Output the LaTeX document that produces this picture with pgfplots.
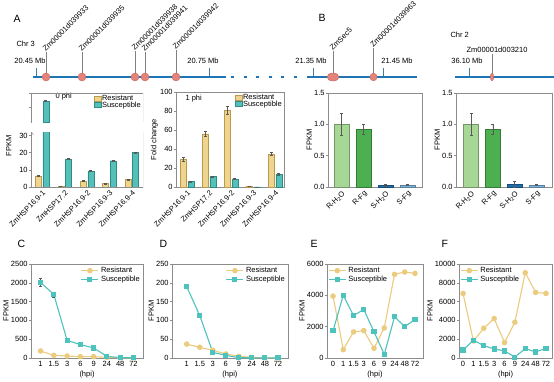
\documentclass[border=0pt]{standalone}
\usepackage{pgfplots}
\pgfplotsset{compat=1.18}
\usepackage{fontspec}
\setmainfont{Liberation Sans}
\definecolor{resF}{HTML}{EFD48E}
\definecolor{resD}{HTML}{B89A50}
\definecolor{susF}{HTML}{55C0B9}
\definecolor{susD}{HTML}{2E8C86}
\definecolor{resL}{HTML}{EBCB7E}
\definecolor{susL}{HTML}{4EC2BC}
\definecolor{gLight}{HTML}{A6D795}
\definecolor{gDark}{HTML}{4CAF50}
\definecolor{bDark}{HTML}{1F6FAE}
\definecolor{bLight}{HTML}{7DB6DD}
\definecolor{track}{HTML}{1E74B5}
\definecolor{gene}{HTML}{E5837A}
\definecolor{geneD}{HTML}{C0655D}
\definecolor{frame}{gray}{0.55}
\newcommand{\fs}{\fontsize{7.5}{8.5}\selectfont}
\newcommand{\fl}{\fontsize{10.5}{12}\selectfont}
\tikzset{glab/.style={font=\fs, rotate=45, anchor=south west, inner sep=0pt}}
\pgfplotsset{
 base/.style={scale only axis, axis line style={frame,line width=0.5pt},
   every tick/.style={frame,line width=0.5pt}, major tick length=2.2pt, tick align=outside,
   xtick pos=bottom, ytick pos=left,
   ticklabel style={font=\fs, inner sep=1pt, text=black},
   label style={font=\fs},
   /pgf/number format/assume math mode=true, /pgf/number format/1000 sep={},
   scaled ticks=false, ylabel style={inner sep=1pt}},
 mylegimg/.style={legend image code/.code={\draw[##1, line width=0.4pt] (0pt,-2.2pt) rectangle (6.5pt,2.8pt);}},
 barleg/.style={legend cell align=left,
   legend style={at={(1,1)}, anchor=north east, draw=none, fill=none, font=\fs, inner sep=1pt, row sep=-2.5pt,
     nodes={inner sep=1pt}}},
 eb/.style={error bars/.cd, y dir=both, y explicit,
   error bar style={black!65, line width=0.4pt},
   error mark options={rotate=90, black!65, mark size=1.5pt, line width=0.4pt}},
 hsp/.style={xtick={0,...,4}, xticklabels={ZmHSP16.9-1,ZmHSP17.2,ZmHSP16.9-2,ZmHSP16.9-3,ZmHSP16.9-4},
   xticklabel style={rotate=45, anchor=north east, inner sep=0.5pt}, xtick style={draw=none}},
 trt/.style={xtick={0,...,3}, xticklabels={R-H\textsubscript{2}O,R-Fg,S-H\textsubscript{2}O,S-Fg},
   xticklabel style={rotate=45, anchor=north east, inner sep=0.5pt}, xtick style={draw=none},
   ymin=0, ymax=1.5, ytick={0,0.5,1,1.5}, ylabel=FPKM,
   yticklabel style={/pgf/number format/.cd, fixed, fixed zerofill, precision=1},
   xmin=-0.62, xmax=3.66},
 resline/.style={resL, line width=1.1pt, mark=*, mark size=2.2pt, mark options={fill=resL, draw=resL}},
 susline/.style={susL, line width=1.1pt, mark=square*, mark size=2pt, mark options={fill=susL, draw=susL}},
 lc/.style={base, height=94pt, ymin=0, xlabel=(hpi), ylabel=FPKM, xtick style={draw=none},
   legend cell align=left,
   legend style={draw=none, fill=none, font=\fs, inner sep=1pt, row sep=-2.5pt}},
 rb/.style={fill=resF, draw=resD, line width=0.4pt, mylegimg},
 sb/.style={fill=susF, draw=susD, line width=0.4pt, mylegimg},
}
\begin{document}
\begin{tikzpicture}[x=1pt,y=1pt]
\useasboundingbox (0,0) rectangle (554,-381);
% ---------- overlay: chromosome tracks and labels ----------
\begin{axis}[scale only axis, width=554pt, height=381pt, at={(0pt,-381pt)}, anchor=south west,
  xmin=0, xmax=554, ymin=-381, ymax=0, hide axis, clip=false]
\addplot[track, line width=2.6pt] coordinates {(33,-77) (226,-77)};
\addplot[track, line width=2.6pt, dash pattern=on 3pt off 9.5pt] coordinates {(231,-77) (304,-77)};
\addplot[track, line width=2.6pt] coordinates {(307,-77) (417,-77)};
\addplot[track, line width=2.6pt] coordinates {(455,-77) (554,-77)};
\addplot[track!60!gray, line width=0.6pt, unbounded coords=jump] coordinates {(36,-68)(36,-76) (nan,nan) (209,-68)(209,-76) (nan,nan) (313,-68)(313,-76) (nan,nan) (383,-68)(383,-76) (nan,nan) (469,-68)(469,-76)};
\addplot[black!50, line width=0.4pt, unbounded coords=jump] coordinates {(46,-74)(46,-52) (nan,nan) (82,-74)(82,-52) (nan,nan) (135,-74)(135,-51) (nan,nan) (145,-74)(145,-52) (nan,nan) (176,-74)(176,-50) (nan,nan) (333,-74)(333,-51) (nan,nan) (373.5,-74)(373.5,-48) (nan,nan) (492,-74)(492,-54)};
\addplot[only marks, mark=*, mark size=4pt, mark options={fill=gene, draw=geneD, line width=0.4pt}] coordinates {(46,-77)(82,-77)(135,-77)(145,-77)(176,-77)};
\addplot[only marks, mark=*, mark size=3.8pt, mark options={xscale=0.95, fill=gene, draw=geneD, line width=0.4pt}] coordinates {(373.5,-77)};
\addplot[only marks, mark=*, mark size=4pt, mark options={xscale=1.5, fill=gene, draw=geneD, line width=0.4pt}] coordinates {(333,-77)};
\addplot[only marks, mark=*, mark size=3.8pt, mark options={xscale=0.45, fill=gene, draw=geneD, line width=0.4pt}] coordinates {(492,-77)};
\node[font=\fl, anchor=base west] at (axis cs:10,-22) {A};
\node[font=\fl, anchor=base west] at (axis cs:315,-21) {B};
\node[font=\fs, anchor=base west] at (axis cs:13,-46) {Chr 3};
\node[font=\fs, anchor=base west] at (axis cs:447,-37) {Chr 2};
\node[font=\fs, anchor=base] at (axis cs:30,-63) {20.45 Mb};
\node[font=\fs, anchor=base] at (axis cs:203,-63) {20.75 Mb};
\node[font=\fs, anchor=base] at (axis cs:311,-63) {21.35 Mb};
\node[font=\fs, anchor=base] at (axis cs:397,-63) {21.45 Mb};
\node[font=\fs, anchor=base] at (axis cs:467,-63) {36.10 Mb};
\node[font=\fs, anchor=base] at (axis cs:497,-52) {Zm00001d003210};
\node[glab] at (axis cs:46,-52) {Zm00001d039933};
\node[glab] at (axis cs:82,-52) {Zm00001d039935};
\node[glab] at (axis cs:135,-51) {Zm00001d039938};
\node[glab] at (axis cs:145,-52) {Zm00001d039941};
\node[glab] at (axis cs:176,-50) {Zm00001d039942};
\node[glab] at (axis cs:333,-51) {ZmSec5};
\node[glab] at (axis cs:373.5,-48) {Zm00001d039963};
\node[font=\fs, anchor=base west] at (axis cs:52,-98) {0 phi};
\node[font=\fs, anchor=base west] at (axis cs:182,-100) {1 phi};
\node[font=\fs, rotate=90, anchor=south] at (axis cs:15,-146) {FPKM};
\node[font=\fl, anchor=base west] at (axis cs:14,-247) {C};
\node[font=\fl, anchor=base west] at (axis cs:156,-247) {D};
\node[font=\fl, anchor=base west] at (axis cs:307,-247) {E};
\node[font=\fl, anchor=base west] at (axis cs:438,-247) {F};
\end{axis}
% ---------- A: 0 phi upper ----------
\begin{axis}[base, at={(31pt,-122pt)}, anchor=south west, width=112pt, height=29pt,
  ymin=195, ymax=400, ytick={300,400}, yticklabel style={text opacity=0}, xmin=-0.5, xmax=4.5, xtick=\empty,
  axis line style={draw=none}, barleg]
\addlegendimage{rb}
\addlegendentry{Resistant}
\addlegendimage{sb}
\addlegendentry{Susceptible}
\addplot[forget plot, ybar, bar width=6pt, bar shift=0pt, sb, eb] coordinates {(0.167,345)+-(0,6)};
\draw[frame, line width=0.5pt] (rel axis cs:0,0) -- (rel axis cs:0,1) -- (rel axis cs:1,1) -- (rel axis cs:1,0);
\draw[frame, line width=0.5pt] ([xshift=-2.5pt,yshift=2.5pt]rel axis cs:0,0) -- ([xshift=2.5pt,yshift=-2.5pt]rel axis cs:0,0);
\node[font=\fs, anchor=east, inner sep=1pt, xshift=-2.2pt] at (axis cs:-0.5,300) {300};
\node[font=\fs, anchor=east, inner sep=1pt, xshift=-2.2pt] at (axis cs:-0.5,400) {400};
\end{axis}
% ---------- A: 0 phi lower ----------
\begin{axis}[base, at={(31pt,-187pt)}, anchor=south west, width=112pt, height=55pt,
  ymin=0, ymax=32, ytick={0,10,20,30}, xmin=-0.5, xmax=4.5, hsp,
  axis line style={draw=none}, ybar=1.5pt, bar width=6pt]
\addplot[rb, eb] coordinates {(0,6.5)+-(0,0.5) (1,0.5)+-(0,0.1) (2,3.5)+-(0,0.3) (3,2)+-(0,0.2) (4,4.3)+-(0,0.3)};
\addplot[sb, eb] coordinates {(0,345)+-(0,6) (1,16.3)+-(0,0.4) (2,9.3)+-(0,0.3) (3,15.3)+-(0,0.4) (4,20)+-(0,0.5)};
\draw[frame, line width=0.5pt] (rel axis cs:0,1) -- (rel axis cs:0,0) -- (rel axis cs:1,0) -- (rel axis cs:1,1);
\draw[frame, line width=0.5pt] ([xshift=-2.5pt,yshift=2.5pt]rel axis cs:0,1) -- ([xshift=2.5pt,yshift=-2.5pt]rel axis cs:0,1);
\end{axis}
% ---------- A: 1 phi ----------
\begin{axis}[base, at={(176pt,-187pt)}, anchor=south west, width=108pt, height=95pt,
  ymin=0, ymax=100, ytick={0,20,...,100}, xmin=-0.5, xmax=4.4, hsp, ylabel={Fold change}, barleg,
  ybar=1.5pt, bar width=6pt]
\addplot[rb, eb] coordinates {(0,29)+-(0,2) (1,56)+-(0,3) (2,81)+-(0,4.5) (3,1)+-(0,0.2) (4,35)+-(0,2)};
\addplot[sb, eb] coordinates {(0,6)+-(0,0.5) (1,11)+-(0,0.8) (2,8.5)+-(0,0.5) (3,0.2)+-(0,0.1) (4,13.5)+-(0,1)};
\legend{Resistant,Susceptible}
\end{axis}
% ---------- B: ZmSARD1 ----------
\begin{axis}[base, at={(328pt,-187pt)}, anchor=south west, width=94pt, height=94pt, trt]
\addplot[ybar, bar width=15pt, bar shift=0pt, fill=gLight, draw=gLight!70!black, line width=0.4pt, eb] coordinates {(0,1.0)+-(0,0.17)};
\addplot[ybar, bar width=15pt, bar shift=0pt, fill=gDark, draw=gDark!70!black, line width=0.4pt, eb] coordinates {(1,0.92)+-(0,0.08)};
\addplot[ybar, bar width=15pt, bar shift=0pt, fill=bDark, draw=bDark!70!black, line width=0.4pt, eb] coordinates {(2,0.03)+-(0,0.02)};
\addplot[ybar, bar width=15pt, bar shift=0pt, fill=bLight, draw=bLight!70!black, line width=0.4pt, eb] coordinates {(3,0.035)+-(0,0.01)};
\node[font=\fs, anchor=base] at ([yshift=4pt]rel axis cs:0.5,1) {ZmSARD1};
\end{axis}
% ---------- B: TF VOZ1 ----------
\begin{axis}[base, at={(456pt,-187pt)}, anchor=south west, width=96pt, height=94pt, trt, xmin=-0.69, xmax=3.71]
\addplot[ybar, bar width=15pt, bar shift=0pt, fill=gLight, draw=gLight!70!black, line width=0.4pt, eb] coordinates {(0,1.0)+-(0,0.17)};
\addplot[ybar, bar width=15pt, bar shift=0pt, fill=gDark, draw=gDark!70!black, line width=0.4pt, eb] coordinates {(1,0.92)+-(0,0.08)};
\addplot[ybar, bar width=15pt, bar shift=0pt, fill=bDark, draw=bDark!70!black, line width=0.4pt, eb] coordinates {(2,0.04)+-(0,0.045)};
\addplot[ybar, bar width=15pt, bar shift=0pt, fill=bLight, draw=bLight!70!black, line width=0.4pt, eb] coordinates {(3,0.035)+-(0,0.01)};
\node[font=\fs, anchor=base] at ([yshift=4pt]rel axis cs:0.5,1) {TF VOZ1};
\end{axis}
% ---------- C ----------
\begin{axis}[lc, at={(31pt,-358pt)}, anchor=south west, width=112pt,
  ymax=2500, ytick={0,500,...,2500}, xmin=-0.72, xmax=7.72,
  xtick={0,...,7}, xticklabels={1,1.5,3,6,9,24,48,72},
  legend style={at={(1,1)}, anchor=north east}]
\addplot[resline, eb] coordinates {(0,187)+-(0,25) (1,71)+-(0,8) (2,53)+-(0,5) (3,36)+-(0,3) (4,36)+-(0,3) (5,18)+-(0,0) (6,5)+-(0,0) (7,3)+-(0,0)};
\addplot[susline, eb] coordinates {(0,2010)+-(0,110) (1,1690)+-(0,60) (2,470)+-(0,20) (3,356)+-(0,15) (4,267)+-(0,15) (5,44)+-(0,0) (6,10)+-(0,0) (7,5)+-(0,0)};
\legend{Resistant,Susceptible}
\node[font=\fs, anchor=base] at ([yshift=6pt]rel axis cs:0.5,1) {ZmHSP16.9-1};
\end{axis}
% ---------- D ----------
\begin{axis}[lc, at={(172pt,-358pt)}, anchor=south west, width=116pt,
  ymax=250, ytick={0,50,...,250}, xmin=-1.13, xmax=7.77,
  xtick={0,...,7}, xticklabels={1,1.5,3,6,9,24,48,72},
  legend style={at={(1,1)}, anchor=north east}]
\addplot[resline] coordinates {(0,37) (1,28.5) (2,20.5) (3,10.7) (4,4.4) (5,1.8) (6,0.5) (7,0.3)};
\addplot[susline] coordinates {(0,189.5) (1,113) (2,15) (3,7) (4,1) (5,0.5) (6,0.3) (7,0.2)};
\legend{Resistant,Susceptible}
\node[font=\fs, anchor=base] at ([yshift=6pt]rel axis cs:0.5,1) {ZmHSP17.2};
\end{axis}
% ---------- E ----------
\begin{axis}[lc, at={(327pt,-358pt)}, anchor=south west, width=96pt,
  ymax=6000, ytick={0,2000,4000,6000}, xmin=-0.59, xmax=8.78,
  xtick={0,...,8}, xticklabels={0,1,1.5,3,6,9,24,48,72},
  legend style={at={(0,1)}, anchor=north west}]
\addplot[resline] coordinates {(0,3950) (1,534) (2,1665) (3,1750) (4,620) (5,1920) (6,5340) (7,5490) (8,5400)};
\addplot[susline] coordinates {(0,1730) (1,4010) (2,2710) (3,3100) (4,1665) (5,235) (6,2630) (7,2010) (8,2455)};
\legend{Resistant,Susceptible}
\node[font=\fs, anchor=base] at ([yshift=6pt]rel axis cs:0.5,1) {Z1C1-Zm00001d048812};
\end{axis}
% ---------- F ----------
\begin{axis}[lc, at={(459pt,-358pt)}, anchor=south west, width=93pt,
  ymax=10000, ytick={0,2000,...,10000}, xmin=-0.39, xmax=8.58,
  xtick={0,...,8}, xticklabels={0,1,1.5,3,6,9,24,48,72},
  legend style={at={(0,1)}, anchor=north west}]
\addplot[resline] coordinates {(0,6870) (1,1815) (2,3170) (3,4200) (4,1640) (5,3810) (6,9075) (7,6975) (8,6870)};
\addplot[susline] coordinates {(0,855) (1,1890) (2,1320) (3,960) (4,750) (5,100) (6,1000) (7,640) (8,1030)};
\legend{Resistant,Susceptible}
\node[font=\fs, anchor=base] at ([yshift=6pt]rel axis cs:0.5,1) {Z1A1-Zm00001d048847};
\end{axis}
\end{tikzpicture}
\end{document}
